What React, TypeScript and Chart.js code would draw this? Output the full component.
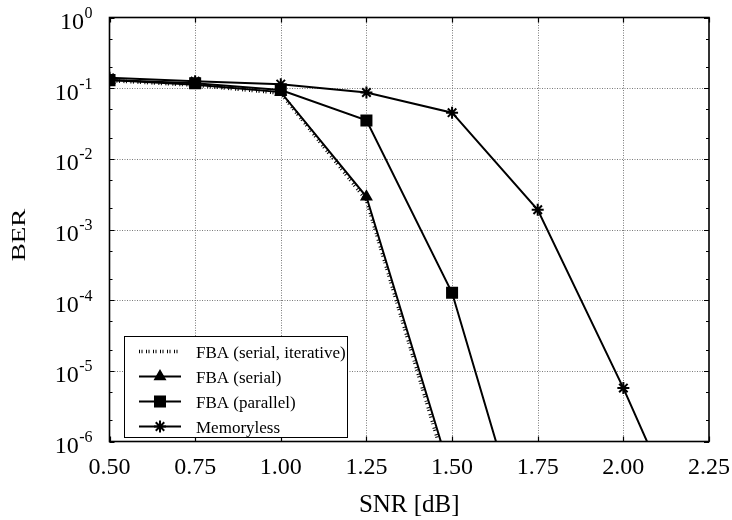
import React, { useEffect, useRef } from 'react';
import { Chart, registerables } from 'chart.js';

Chart.register(...registerables);

// ---- data ----
const xTicks = [0.5, 0.75, 1.0, 1.25, 1.5, 1.75, 2.0, 2.25];
const xTickLabels = ['0.50', '0.75', '1.00', '1.25', '1.50', '1.75', '2.00', '2.25'];
const yExponents = [0, -1, -2, -3, -4, -5, -6];
const yMinorMantissas = [2, 5];

const serialIterX = [0.5, 0.75, 1.0, 1.25, 1.5];
const serialIterBER = [0.128, 0.11, 0.085, 2.6e-3, 2.2e-7];

const serialX = [0.5, 0.75, 1.0, 1.25, 1.5];
const serialBER = [0.13, 0.112, 0.088, 2.9e-3, 3.0e-7];

const parallelX = [0.5, 0.75, 1.0, 1.25, 1.5, 1.75];
const parallelBER = [0.13, 0.117, 0.094, 0.035, 1.27e-4, 1.0e-8];

const memorylessX = [0.5, 0.75, 1.0, 1.25, 1.5, 1.75, 2.0, 2.25];
const memorylessBER = [0.14, 0.125, 0.114, 0.087, 0.045, 1.9e-3, 5.7e-6, 1.05e-8];

const seriesLabels = ['FBA (serial, iterative)', 'FBA (serial)', 'FBA (parallel)', 'Memoryless'];

const SERIF = "'Liberation Serif', 'Times New Roman', serif";

const pts = (xs: number[], ys: number[]) => xs.map((x, i) => ({ x, y: ys[i] }));

function drawMarker(ctx: CanvasRenderingContext2D, style: string, r: number, bw: number, x: number, y: number) {
  ctx.save();
  ctx.fillStyle = '#000';
  ctx.strokeStyle = '#000';
  ctx.lineWidth = bw;
  ctx.beginPath();
  if (style === 'triangle') {
    let rad = 0;
    ctx.moveTo(x + Math.sin(rad) * r, y - Math.cos(rad) * r);
    rad += (2 * Math.PI) / 3;
    ctx.lineTo(x + Math.sin(rad) * r, y - Math.cos(rad) * r);
    rad += (2 * Math.PI) / 3;
    ctx.lineTo(x + Math.sin(rad) * r, y - Math.cos(rad) * r);
    ctx.closePath();
    ctx.fill();
    if (bw > 0) ctx.stroke();
  } else if (style === 'rect') {
    const s = Math.SQRT1_2 * r;
    ctx.rect(x - s, y - s, 2 * s, 2 * s);
    ctx.fill();
    if (bw > 0) ctx.stroke();
  } else if (style === 'star') {
    ctx.moveTo(x - r, y);
    ctx.lineTo(x + r, y);
    ctx.moveTo(x, y - r);
    ctx.lineTo(x, y + r);
    const d = r * Math.SQRT1_2;
    ctx.moveTo(x - d, y - d);
    ctx.lineTo(x + d, y + d);
    ctx.moveTo(x - d, y + d);
    ctx.lineTo(x + d, y - d);
    ctx.stroke();
  }
  ctx.restore();
}

const decorPlugin = {
  id: 'decor',
  beforeDatasetsDraw(chart: any) {
    const { ctx, chartArea: a, scales } = chart;
    const xs = scales.x;
    const ys = scales.y;
    ctx.save();
    ctx.strokeStyle = '#7a7a7a';
    ctx.lineWidth = 1;
    ctx.setLineDash([1, 1.5]);
    for (let i = 1; i < xTicks.length - 1; i++) {
      const px = Math.round(xs.getPixelForValue(xTicks[i])) + 0.5;
      ctx.beginPath();
      ctx.moveTo(px, a.top);
      ctx.lineTo(px, a.bottom);
      ctx.stroke();
    }
    for (let i = 1; i < yExponents.length - 1; i++) {
      const py = Math.round(ys.getPixelForValue(Math.pow(10, yExponents[i]))) + 0.5;
      ctx.beginPath();
      ctx.moveTo(a.left, py);
      ctx.lineTo(a.right, py);
      ctx.stroke();
    }
    ctx.restore();
  },
  afterDraw(chart: any) {
    const { ctx, chartArea: a, scales } = chart;
    const xs = scales.x;
    const ys = scales.y;
    ctx.save();
    ctx.setLineDash([]);
    ctx.strokeStyle = '#000';
    ctx.fillStyle = '#000';

    // ticks
    ctx.lineWidth = 1.2;
    ctx.beginPath();
    for (const xv of xTicks) {
      const px = Math.round(xs.getPixelForValue(xv)) + 0.5;
      ctx.moveTo(px, a.bottom);
      ctx.lineTo(px, a.bottom - 5);
      ctx.moveTo(px, a.top);
      ctx.lineTo(px, a.top + 5);
    }
    for (const e of yExponents) {
      const py = Math.round(ys.getPixelForValue(Math.pow(10, e))) + 0.5;
      ctx.moveTo(a.left, py);
      ctx.lineTo(a.left + 5, py);
      ctx.moveTo(a.right, py);
      ctx.lineTo(a.right - 5, py);
      if (e > -6) {
        for (const m of yMinorMantissas) {
          const v = m * Math.pow(10, e - 1);
          const pm = Math.round(ys.getPixelForValue(v)) + 0.5;
          ctx.moveTo(a.left, pm);
          ctx.lineTo(a.left + 3, pm);
          ctx.moveTo(a.right, pm);
          ctx.lineTo(a.right - 3, pm);
        }
      }
    }
    ctx.stroke();

    // box
    ctx.lineWidth = 1.6;
    ctx.strokeRect(a.left, a.top, a.right - a.left, a.bottom - a.top);

    // x tick labels
    ctx.font = `24px ${SERIF}`;
    ctx.textAlign = 'center';
    ctx.textBaseline = 'alphabetic';
    xTicks.forEach((xv, i) => {
      ctx.fillText(xTickLabels[i], xs.getPixelForValue(xv), a.bottom + 32.5);
    });

    // y tick labels 10^e
    const rightEdge = a.left - 17;
    yExponents.forEach((e) => {
      const py = ys.getPixelForValue(Math.pow(10, e));
      const sup = String(e);
      ctx.font = `16px ${SERIF}`;
      const supW = ctx.measureText(sup).width;
      ctx.textAlign = 'left';
      ctx.fillText(sup, rightEdge - supW, py + 0.5);
      ctx.font = `24px ${SERIF}`;
      ctx.textAlign = 'right';
      ctx.fillText('10', rightEdge - supW - 0.5, py + 11.5);
    });

    // x title
    ctx.font = `25px ${SERIF}`;
    ctx.textAlign = 'center';
    ctx.fillText('SNR [dB]', (a.left + a.right) / 2, a.bottom + 70);

    // y title
    ctx.save();
    ctx.translate(25, 235);
    ctx.rotate(-Math.PI / 2);
    ctx.scale(1.5, 1);
    ctx.font = `18px ${SERIF}`;
    ctx.textAlign = 'center';
    ctx.fillText('BER', 0, 0);
    ctx.restore();

    // legend
    const lx = 124, ly = 336, lw = 223, lh = 101;
    ctx.fillStyle = '#fff';
    ctx.fillRect(lx, ly, lw, lh);
    ctx.strokeStyle = '#000';
    ctx.lineWidth = 1;
    ctx.strokeRect(lx + 0.5, ly + 0.5, lw, lh);
    chart.data.datasets.forEach((ds: any, i: number) => {
      const cy = ly + 15.5 + i * 25;
      ctx.save();
      ctx.strokeStyle = '#000';
      ctx.lineWidth = ds.borderWidth;
      ctx.setLineDash(ds.borderDash || []);
      ctx.beginPath();
      ctx.moveTo(lx + 15, cy);
      ctx.lineTo(lx + 57, cy);
      ctx.stroke();
      ctx.restore();
      if (ds.pointRadius > 0) {
        drawMarker(ctx, ds.pointStyle, ds.pointRadius, ds.pointBorderWidth, lx + 36, cy);
      }
      ctx.fillStyle = '#000';
      ctx.font = `17px ${SERIF}`;
      ctx.textAlign = 'left';
      ctx.textBaseline = 'alphabetic';
      ctx.fillText(ds.label, lx + 72, cy + 6);
    });

    ctx.restore();
  },
};

export default function App() {
  const canvasRef = useRef<HTMLCanvasElement | null>(null);

  useEffect(() => {
    document.body.style.margin = '0';
    const canvas = canvasRef.current;
    if (!canvas) return;
    const mk = (label: string, data: any[], extra: any) => ({
      label,
      data,
      borderColor: '#000',
      backgroundColor: '#000',
      pointBackgroundColor: '#000',
      pointBorderColor: '#000',
      borderWidth: 2,
      pointBorderWidth: 2,
      tension: 0,
      ...extra,
    });
    const chart = new Chart(canvas, {
      type: 'line',
      data: {
        datasets: [
          mk(seriesLabels[0], pts(serialIterX, serialIterBER), {
            borderDash: [1, 1.5, 1, 3.5],
            borderWidth: 3.5,
            pointRadius: 0,
            pointBorderWidth: 0,
          }),
          mk(seriesLabels[1], pts(serialX, serialBER), { pointStyle: 'triangle', pointRadius: 5.5 }),
          mk(seriesLabels[2], pts(parallelX, parallelBER), { pointStyle: 'rect', pointRadius: 8.5, pointBorderWidth: 0 }),
          mk(seriesLabels[3], pts(memorylessX, memorylessBER), { pointStyle: 'star', pointRadius: 6 }),
        ],
      },
      options: {
        responsive: false,
        animation: false,
        devicePixelRatio: 1,
        layout: { padding: { left: 109.5, top: 17.5, right: 23, bottom: 78.5 } },
        plugins: { legend: { display: false }, tooltip: { enabled: false } },
        scales: {
          x: { type: 'linear', min: 0.5, max: 2.25, display: false },
          y: { type: 'logarithmic', min: 1e-6, max: 1, display: false },
        },
      },
      plugins: [decorPlugin],
    });
    return () => chart.destroy();
  }, []);

  return (
    <div style={{ width: 732, height: 520, overflow: 'hidden', background: '#fff' }}>
      <canvas ref={canvasRef} width={732} height={520} />
    </div>
  );
}
